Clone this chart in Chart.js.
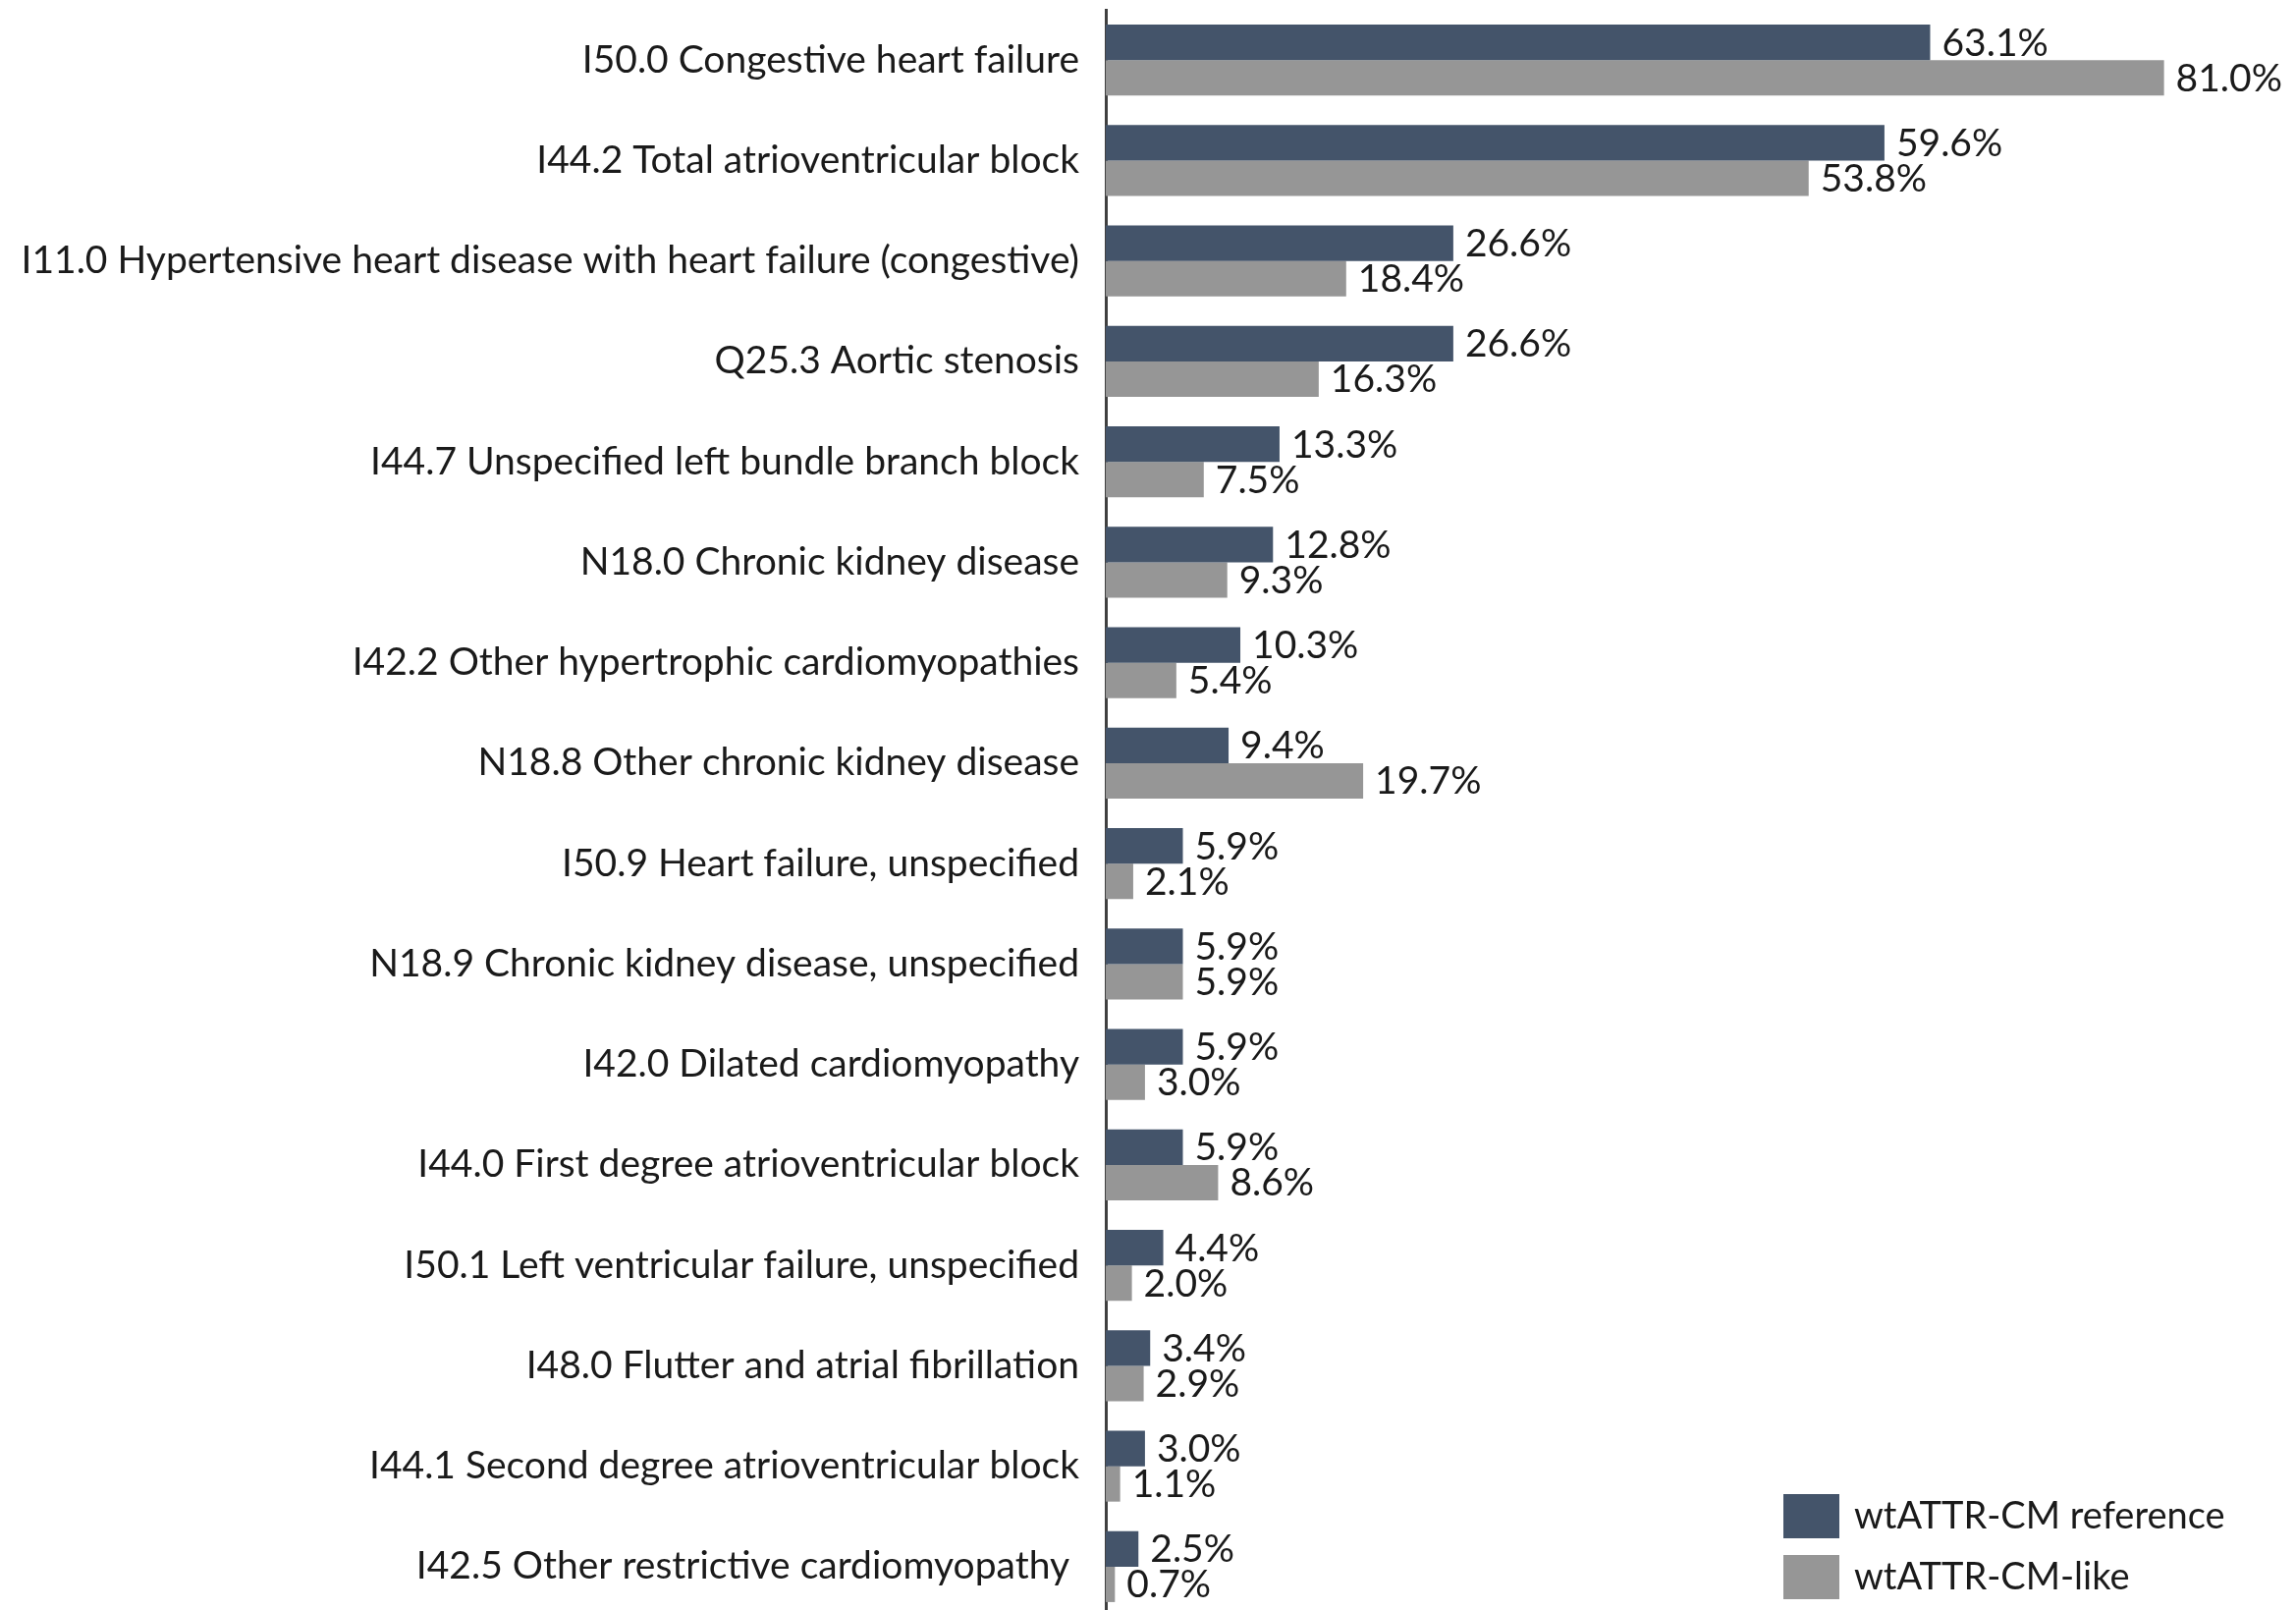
<!DOCTYPE html>
<html>
<head>
<meta charset="utf-8">
<script src="https://cdn.jsdelivr.net/npm/chart.js@4.4.1/dist/chart.umd.min.js"></script>
<style>
html,body{margin:0;padding:0;background:#fff;overflow:hidden;}
#wrap{width:2338px;height:1646px;}
</style>
</head>
<body>
<div id="wrap"><canvas id="icdChart" width="2338" height="1646"></canvas></div>
<script>
// ICD-10 diagnoses, share of patients (%)
const categories = [
'I50.0 Congestive heart failure',
'I44.2 Total atrioventricular block',
'I11.0 Hypertensive heart disease with heart failure (congestive)',
'Q25.3 Aortic stenosis',
'I44.7 Unspecified left bundle branch block',
'N18.0 Chronic kidney disease',
'I42.2 Other hypertrophic cardiomyopathies',
'N18.8 Other chronic kidney disease',
'I50.9 Heart failure, unspecified',
'N18.9 Chronic kidney disease, unspecified',
'I42.0 Dilated cardiomyopathy',
'I44.0 First degree atrioventricular block',
'I50.1 Left ventricular failure, unspecified',
'I48.0 Flutter and atrial fibrillation',
'I44.1 Second degree atrioventricular block',
'I42.5 Other restrictive cardiomyopathy '
];
const seriesNames = ['wtATTR-CM reference','wtATTR-CM-like'];
const referenceValues = [63.1,59.6,26.6,26.6,13.3,12.8,10.3,9.4,5.9,5.9,5.9,5.9,4.4,3.4,3.0,2.5];
const likeValues = [81.0,53.8,18.4,16.3,7.5,9.3,5.4,19.7,2.1,5.9,3.0,8.6,2.0,2.9,1.1,0.7];

const FONT = 'Lato';
const TXT = '#1a1a1a';

// value labels at the bar ends
const valueLabels = {
  id:'valueLabels',
  afterDatasetsDraw(chart){
    const ctx = chart.ctx;
    ctx.save();
    ctx.font = '39px ' + FONT;
    ctx.fillStyle = TXT;
    ctx.textAlign = 'left';
    ctx.textBaseline = 'middle';
    chart.data.datasets.forEach((ds,i)=>{
      chart.getDatasetMeta(i).data.forEach((bar,j)=>{
        ctx.fillText(ds.data[j].toFixed(1)+'%', bar.x+12, bar.y+1);
      });
    });
    ctx.restore();
  }
};

// legend in the lower right corner
const cornerLegend = {
  id:'cornerLegend',
  afterDraw(chart){
    const ctx = chart.ctx;
    ctx.save();
    ctx.font = '38px ' + FONT;
    ctx.textBaseline = 'middle';
    chart.data.datasets.forEach((ds,i)=>{
      const y = 1521 + i*62;
      ctx.fillStyle = ds.backgroundColor;
      ctx.fillRect(1816,y,57,45);
      ctx.fillStyle = TXT;
      ctx.fillText(ds.label,1888,y+23);
    });
    ctx.restore();
  }
};

new Chart(document.getElementById('icdChart'),{
type:'bar',
data:{
labels:categories,
datasets:[{
label:seriesNames[0],
data:referenceValues,
backgroundColor:'#44546a'
},{
label:seriesNames[1],
data:likeValues,
backgroundColor:'#969696'
}]
},
options:{
indexAxis:'y',
responsive:false,
animation:false,
events:[],
layout:{padding:{top:10,right:8,left:0,bottom:0}},
datasets:{bar:{categoryPercentage:0.705,barPercentage:1.0}},
plugins:{legend:{display:false},tooltip:{enabled:false}},
scales:{
x:{display:false,min:0,max:90.5},
y:{
grid:{display:false,drawTicks:false},
border:{display:true,color:'#404040',width:3},
ticks:{color:TXT,font:{family:FONT,size:39},padding:27},
afterFit(s){ s.width = 1126; s.paddingTop = 0; s.paddingBottom = 0; }
}
}
},
plugins:[valueLabels,cornerLegend]
});
</script>
</body>
</html>
